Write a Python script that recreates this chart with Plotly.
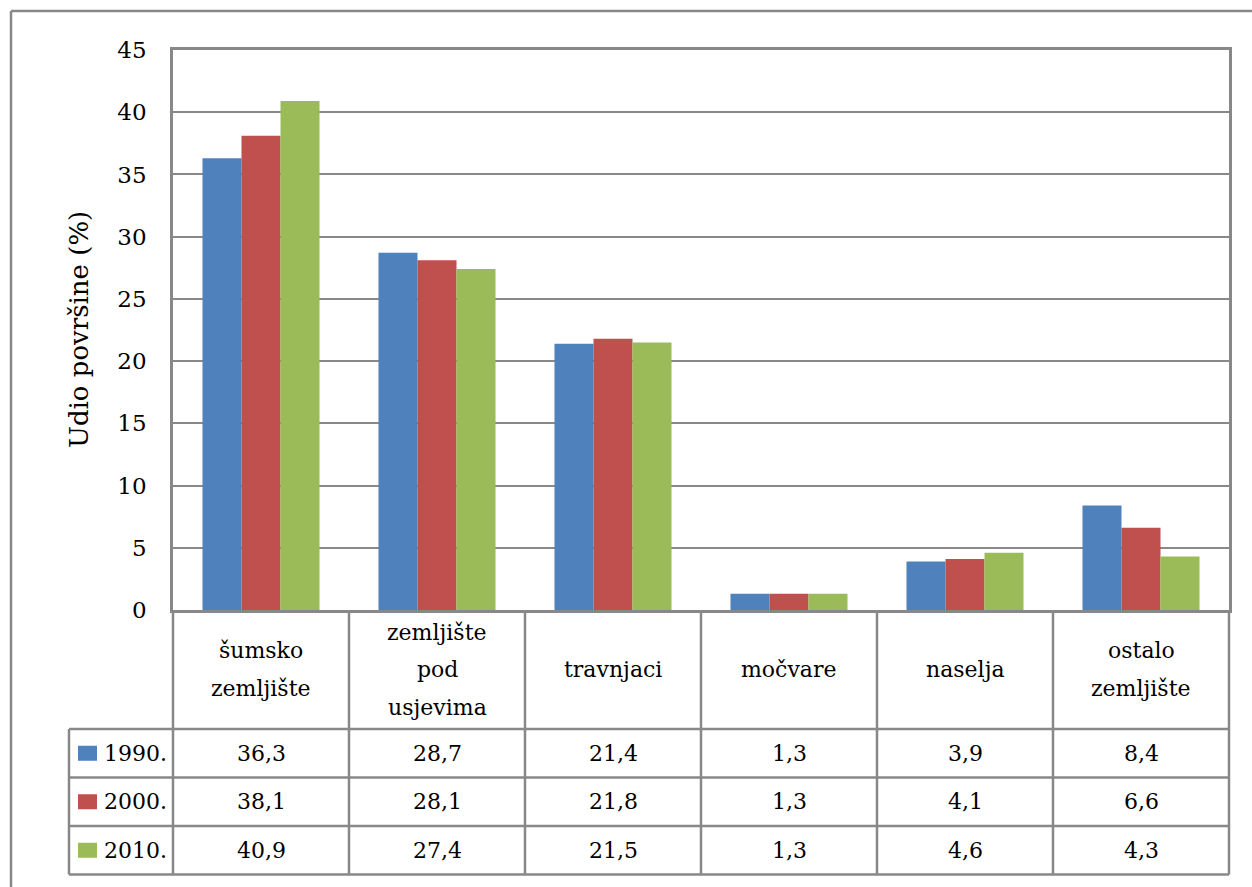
import plotly.graph_objects as go

categories = ["šumsko\nzemljište", "zemljište\npod\nusjevima", "travnjaci", "močvare", "naselja", "ostalo\nzemljište"]
years = ["1990.", "2000.", "2010."]
v1990 = [36.3, 28.7, 21.4, 1.3, 3.9, 8.4]
v2000 = [38.1, 28.1, 21.8, 1.3, 4.1, 6.6]
v2010 = [40.9, 27.4, 21.5, 1.3, 4.6, 4.3]
colors = ["#4F81BD", "#C0504D", "#9BBB59"]
y_title = "Udio površine (%)"

series = [v1990, v2000, v2010]
W, H = 1252, 887
FONT = "DejaVu Serif"
FS = 22
GRAY = "#888888"

def px_x(p):
    return p / W

def px_y(p):
    return 1 - p / H

fig = go.Figure()
xs = list(range(len(categories)))
for name, vals, col in zip(years, series, colors):
    fig.add_trace(go.Bar(x=xs, y=vals, name=name, marker=dict(color=col, line=dict(width=0)),
                         xaxis="x", yaxis="y", showlegend=False))

PLOT_L, PLOT_R, PLOT_T, PLOT_B = 173, 1229, 50, 610
UNIT = (PLOT_R - PLOT_L) / len(categories)
T_L, T_R, T_T, T_B = 60, 1240, 605, 882
ROWU = 48.5
HEAD = 119 / ROWU
x2_range = [-0.5 - (PLOT_L - T_L) / UNIT, 5.5 + (T_R - PLOT_R) / UNIT]
y2_top = -(PLOT_B - T_T) / ROWU
y2_bot = y2_top + (T_B - T_T) / ROWU
LEG_L = -0.5 - (PLOT_L - 69) / UNIT
n = len(categories)
n_rows = len(years)
table_bottom = HEAD + n_rows

shapes = []
line = dict(color=GRAY, width=2.5)
for i in range(n + 1):
    xb = -0.5 + i
    shapes.append(dict(type="line", xref="x2", yref="y2", x0=xb, x1=xb, y0=0, y1=table_bottom, line=line))
shapes.append(dict(type="line", xref="x2", yref="y2", x0=LEG_L, x1=LEG_L, y0=HEAD, y1=table_bottom, line=line))
for r in range(n_rows + 1):
    yb = HEAD + r
    shapes.append(dict(type="line", xref="x2", yref="y2", x0=LEG_L, x1=5.5, y0=yb, y1=yb, line=line))
for r, col in enumerate(colors):
    yc = HEAD + r + 0.5
    shapes.append(dict(type="rect", xref="x2", yref="y2", x0=LEG_L + 9 / UNIT, x1=LEG_L + 28 / UNIT,
                       y0=yc - 7.5 / ROWU, y1=yc + 7.5 / ROWU, fillcolor=col, line=dict(width=0)))
shapes.append(dict(type="line", xref="paper", yref="paper", x0=px_x(11), x1=1.02, y0=px_y(11), y1=px_y(11),
                   line=dict(color=GRAY, width=2.5)))
shapes.append(dict(type="line", xref="paper", yref="paper", x0=px_x(11), x1=px_x(11), y0=px_y(11), y1=-0.02,
                   line=dict(color=GRAY, width=2.5)))

annotations = []
font = dict(family=FONT, size=FS, color="#000000")
LINE_H = 37.5 / ROWU
for i, cat in enumerate(categories):
    lines = cat.split("\n")
    k = len(lines)
    for j, t in enumerate(lines):
        yc = HEAD / 2 + (j - (k - 1) / 2) * LINE_H
        annotations.append(dict(xref="x2", yref="y2", x=i, y=yc, text=t, showarrow=False, font=font,
                                xanchor="center", yanchor="middle"))
for r, (name, vals) in enumerate(zip(years, series)):
    yc = HEAD + r + 0.5
    annotations.append(dict(xref="x2", yref="y2", x=LEG_L + 33 / UNIT, y=yc, text=name, showarrow=False,
                            font=font, xanchor="left", yanchor="middle"))
    for i, v in enumerate(vals):
        annotations.append(dict(xref="x2", yref="y2", x=i, y=yc, text=f"{v:.1f}".replace(".", ","),
                                showarrow=False, font=font, xanchor="center", yanchor="middle"))
annotations.append(dict(xref="paper", yref="paper", x=px_x(79), y=px_y(330), text=y_title, textangle=-90,
                        showarrow=False, font=dict(family=FONT, size=26, color="#000000"),
                        xanchor="center", yanchor="middle"))

fig.update_layout(
    template="none",
    width=W, height=H, margin=dict(l=0, r=0, t=0, b=0, pad=0, autoexpand=False),
    paper_bgcolor="white", plot_bgcolor="rgba(0,0,0,0)",
    barmode="group", bargap=0.335, bargroupgap=0,
    font=font,
    xaxis=dict(domain=[px_x(PLOT_L), px_x(PLOT_R)], range=[-0.5, 5.5], showticklabels=False, showgrid=False,
               zeroline=False, showline=True, linecolor=GRAY, linewidth=2.5, mirror=True, ticks="",
               automargin=False),
    yaxis=dict(domain=[px_y(PLOT_B), px_y(PLOT_T)], range=[0, 45], dtick=5, showgrid=True, gridcolor=GRAY,
               gridwidth=2, zeroline=False, showline=True, linecolor=GRAY, linewidth=2.5, mirror=True,
               ticks="outside", ticklen=19, tickcolor="rgba(0,0,0,0)", tickfont=dict(family=FONT, size=23),
               automargin=False),
    xaxis2=dict(domain=[px_x(T_L), px_x(T_R)], range=x2_range, visible=False, anchor="y2", automargin=False),
    yaxis2=dict(domain=[px_y(T_B), px_y(T_T)], range=[y2_bot, y2_top], visible=False, anchor="x2",
                automargin=False),
    shapes=shapes, annotations=annotations,
)
fig.write_html("out.html", config={"displayModeBar": False},
               post_script="document.body.style.margin='0';document.body.style.padding='0';document.body.style.overflow='hidden';window.scrollTo(0,0);")
